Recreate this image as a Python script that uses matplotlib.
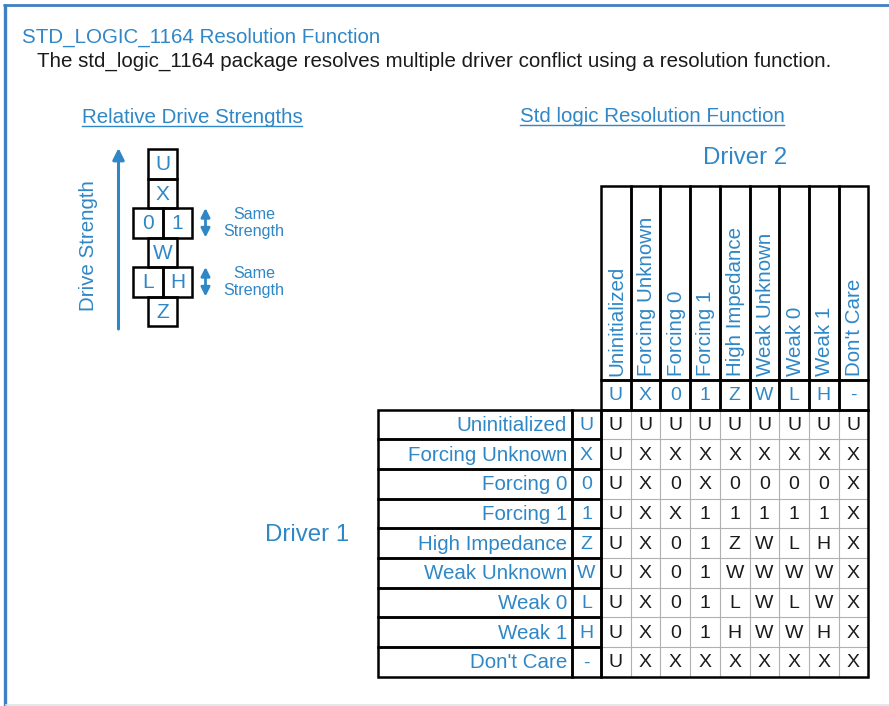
import matplotlib
matplotlib.use("Agg")
import matplotlib.pyplot as plt
from matplotlib.patches import Rectangle, FancyArrowPatch

plt.rcParams['font.family'] = ['Liberation Sans', 'DejaVu Sans']

BLUE = '#2f87c6'
FRAME = '#3f7fc2'

# data
names = ["Uninitialized", "Forcing Unknown", "Forcing 0", "Forcing 1",
         "High Impedance", "Weak Unknown", "Weak 0", "Weak 1", "Don't Care"]
symbols = ["U", "X", "0", "1", "Z", "W", "L", "H", "-"]
resolution = [
    "UUUUUUUUU",
    "UXXXXXXXX",
    "UX0X0000X",
    "UXX11111X",
    "UX01ZWLHX",
    "UX01WWWWX",
    "UX01LWLWX",
    "UX01HWWHX",
    "UXXXXXXXX",
]
strength_levels = [["U"], ["X"], ["0", "1"], ["W"], ["L", "H"], ["Z"]]
same_strength = ["0", "L"]

fig = plt.figure(figsize=(8.89, 7.06), dpi=100)
ax = fig.add_axes([0, 0, 1, 1])
ax.set_xlim(0, 889)
ax.set_ylim(706, 0)
ax.axis('off')

# frame
ax.plot([4.5, 4.5], [4, 706], color=FRAME, lw=2.4, solid_capstyle='butt')
ax.plot([3, 889], [5, 5], color=FRAME, lw=2.0, solid_capstyle='butt')
ax.plot([6, 889], [704.5, 704.5], color='#dde3e6', lw=1.2)

ax.text(22, 43, "STD_LOGIC_1164 Resolution Function", color=BLUE,
        fontsize=14.8, va='baseline')
ax.text(37, 67, "The std_logic_1164 package resolves multiple driver conflict "
        "using a resolution function.", color='#1a1a1a', fontsize=14.8,
        va='baseline')


def underlined(x, y, s, size):
    t = ax.text(x, y, s, color=BLUE, fontsize=size, ha='center', va='baseline')
    fig.canvas.draw()
    bb = t.get_window_extent().transformed(ax.transData.inverted())
    ax.plot([bb.x0, bb.x1], [y + 2.5, y + 2.5], color=BLUE, lw=1.0)


underlined(192, 123, "Relative Drive Strengths", 14.8)
underlined(652, 122, "Std logic Resolution Function", 14.8)

# drive strength ladder
bw, bh = 29.7, 29.5
cx, top = 162.5, 149
for i, level in enumerate(strength_levels):
    y = top + i * bh
    x = cx - bw * len(level) / 2
    for j, s in enumerate(level):
        ax.add_patch(Rectangle((x + j * bw, y), bw, bh, fill=False,
                               ec='black', lw=1.8, zorder=3))
        ax.text(x + j * bw + bw / 2, y + bh / 2 + 1, s, color=BLUE,
                fontsize=15, ha='center', va='center')
    if level[0] in same_strength:
        ax.add_patch(FancyArrowPatch((205.5, y), (205.5, y + bh), arrowstyle='<|-|>',
                                     mutation_scale=13, color=BLUE, lw=2.0,
                                     shrinkA=0, shrinkB=0))
        ax.text(254, y + bh / 2, "Same\nStrength", color=BLUE, fontsize=11.6,
                ha='center', va='center', linespacing=1.15)

ax.add_patch(FancyArrowPatch((118.5, 329), (118.5, 148), arrowstyle='-|>',
                             mutation_scale=17, color=BLUE, lw=2.2,
                             shrinkA=0, shrinkB=0))
ax.text(88, 246, "Drive Strength", color=BLUE, fontsize=14.8, rotation=90,
        ha='center', va='center')

# resolution table
n = len(symbols)
x0, cw = 601, 29.7
hy0, hy1, hy2 = 186, 380, 409.5
rh = 29.7
lx0, lx1 = 377.5, 572
thick = 1.8

ax.text(703, 164, "Driver 2", color=BLUE, fontsize=17.3, va='baseline')
ax.text(265, 541, "Driver 1", color=BLUE, fontsize=17.3, va='baseline')

for j in range(n):
    xl = x0 + j * cw
    ax.add_patch(Rectangle((xl, hy0), cw, hy1 - hy0, fill=False, ec='black', lw=thick, zorder=3))
    ax.add_patch(Rectangle((xl, hy1), cw, hy2 - hy1, fill=False, ec='black', lw=thick, zorder=3))
    ax.text(xl + cw / 2 + 1, hy1 - 4, names[j], color=BLUE, fontsize=14.8, rotation=90,
            rotation_mode='anchor', ha='left', va='center')
    ax.text(xl + cw / 2, (hy1 + hy2) / 2 + 1, symbols[j], color=BLUE, fontsize=14,
            ha='center', va='center')

gy_end = hy2 + n * rh
for i in range(n):
    yt = hy2 + i * rh
    ax.add_patch(Rectangle((lx0, yt), lx1 - lx0, rh, fill=False, ec='black', lw=thick, zorder=3))
    ax.add_patch(Rectangle((lx1, yt), x0 - lx1, rh, fill=False, ec='black', lw=thick, zorder=3))
    ax.text(lx1 - 5, yt + rh / 2 + 1, names[i], color=BLUE, fontsize=14.8,
            ha='right', va='center')
    ax.text((lx1 + x0) / 2, yt + rh / 2 + 1, symbols[i], color=BLUE, fontsize=14,
            ha='center', va='center')
    for j, r in enumerate(resolution[i]):
        ax.text(x0 + j * cw + cw / 2, yt + rh / 2 + 1, r, color='#1a1a1a',
                fontsize=14, ha='center', va='center')

# thin inner grid
for k in range(1, n):
    ax.plot([x0 + k * cw] * 2, [hy2, gy_end], color='#b0b0b0', lw=0.8, zorder=2)
    ax.plot([x0, x0 + n * cw], [hy2 + k * rh] * 2, color='#b0b0b0', lw=0.8, zorder=2)
ax.add_patch(Rectangle((x0, hy2), n * cw, n * rh, fill=False, ec='black', lw=thick, zorder=3))

fig.savefig("out.png", dpi=100)
